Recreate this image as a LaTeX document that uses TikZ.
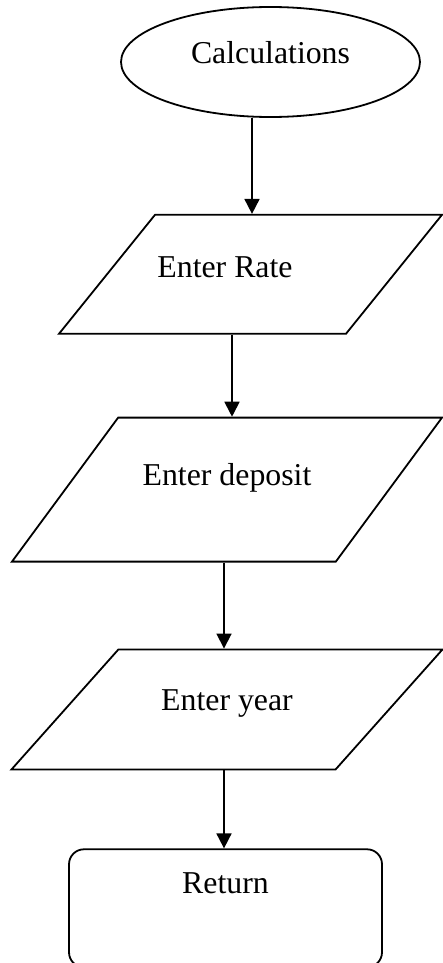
\documentclass[tikz,border=0pt]{standalone}
\usepackage{fontspec}
\setmainfont{Liberation Serif}
\usetikzlibrary{positioning,shapes.geometric,arrows.meta}

\begin{document}
\begin{tikzpicture}[->, >={Triangle[length=7.5pt,width=7.5pt]}, line width=0.9pt,
	every node/.style={draw, inner sep=1pt, font=\fontsize{15.9pt}{19pt}\selectfont, text height=11pt},
	io/.style={trapezium, trapezium stretches body=true, trapezium left angle=#1, trapezium right angle=180-#1}]

	\useasboundingbox (0,0) rectangle (221.5pt,-481.5pt);

	\node [ellipse, minimum width=149.5pt, minimum height=55pt, text depth=9.6pt] (cal) at (135.25pt,-31pt) {Calculations};
	\node [io=51.1, minimum width=191.5pt, minimum height=59.5pt, text depth=8pt, inner ysep=20.25pt] (rate) [below=48pt of cal, xshift=-10pt] {Enter Rate\hspace*{25.5pt}};
	\node [io=53.6, minimum width=215pt, minimum height=72pt, text depth=15pt, inner ysep=23pt] (dep) [below=41pt of rate, xshift=-11.75pt] {Enter deposit};
	\node [io=48.3, minimum width=215.5pt, minimum height=60pt, text depth=9.5pt, inner ysep=19.75pt] (yr) [below=43pt of dep] {Enter year};
	\node [rectangle, rounded corners=7.5pt, minimum width=156.5pt, minimum height=59pt, text depth=25.5pt] (ret) [below=39pt of yr, xshift=-0.75pt] {Return};

	\draw ([xshift=-9.25pt]cal.south) -- ([xshift=-9.25pt]cal.south |- rate.north);
	\draw ([xshift=-9.25pt]rate.south) -- ([xshift=-9.25pt]rate.south |- dep.north);
	\draw ([xshift=-1.5pt]dep.south) -- ([xshift=-1.5pt]dep.south |- yr.north);
	\draw ([xshift=-1.5pt]yr.south) -- ([xshift=-1.5pt]yr.south |- ret.north);

\end{tikzpicture}
\end{document}
